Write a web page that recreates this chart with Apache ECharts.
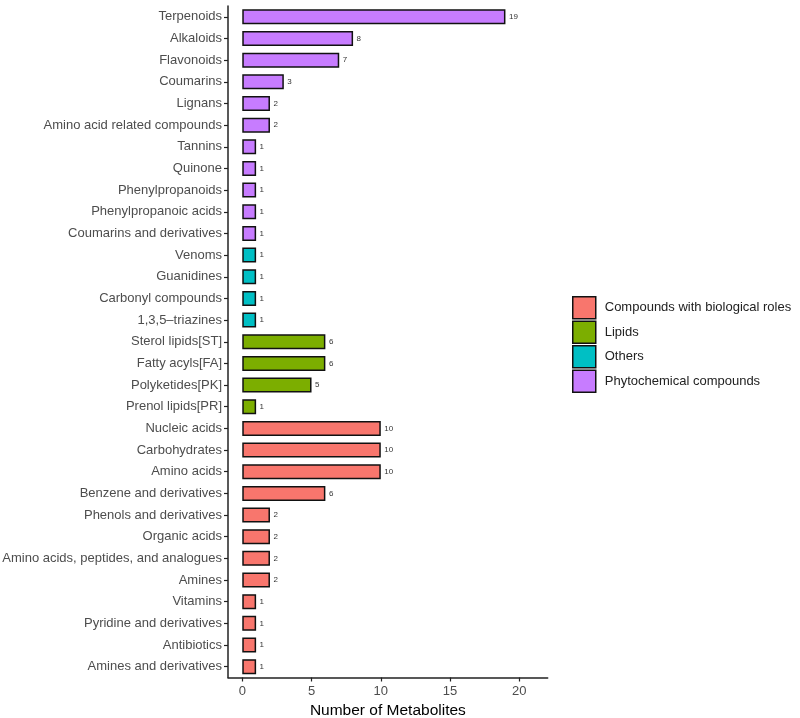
<!DOCTYPE html>
<html>
<head>
<meta charset="utf-8">
<script src="https://cdn.jsdelivr.net/npm/echarts@6/dist/echarts.min.js"></script>
<style>html,body{margin:0;padding:0;background:#fff}#c{width:800px;height:718px}</style>
</head>
<body>
<div id="c"></div>
<script>
const categories = ["Terpenoids","Alkaloids","Flavonoids","Coumarins","Lignans","Amino acid related compounds","Tannins","Quinone","Phenylpropanoids","Phenylpropanoic acids","Coumarins and derivatives","Venoms","Guanidines","Carbonyl compounds","1,3,5\u2013triazines","Sterol lipids[ST]","Fatty acyls[FA]","Polyketides[PK]","Prenol lipids[PR]","Nucleic acids","Carbohydrates","Amino acids","Benzene and derivatives","Phenols and derivatives","Organic acids","Amino acids, peptides, and analogues","Amines","Vitamins","Pyridine and derivatives","Antibiotics","Amines and derivatives"];
const values = [19,8,7,3,2,2,1,1,1,1,1,1,1,1,1,6,6,5,1,10,10,10,6,2,2,2,2,1,1,1,1];
const groups = ["P","P","P","P","P","P","P","P","P","P","P","O","O","O","O","L","L","L","L","C","C","C","C","C","C","C","C","C","C","C","C"];
const groupKeys = ["C","L","O","P"];
const groupNames = ["Compounds with biological roles","Lipids","Others","Phytochemical compounds"];
const groupColors = ["#F8766D","#7CAE00","#00BFC4","#C77CFF"];
const xTicks = [0,5,10,15,20];

const chart = echarts.init(document.getElementById('c'), null, {renderer:'canvas'});
const font = "'Liberation Sans', Arial, Helvetica, sans-serif";
const series = groupKeys.map((g,gi) => ({
  name: groupNames[gi],
  type: 'bar',
  stack: 'all',
  barWidth: 15,
  data: values.map((v,i) => groups[i] === g ? v : null),
  itemStyle: {color: groupColors[gi], borderColor: '#111', borderWidth: 1.5},
  label: {show: true, position: 'right', distance: 3.5, fontSize: 8, color: '#333', fontFamily: font},
  emphasis: {disabled: true},
  animation: false
}));

chart.setOption({
  animation: false,
  grid: {left: 228, right: 252.3, top: 6, bottom: 40.5, containLabel: false, outerBoundsMode: 'none'},
  legend: {
    orient: 'vertical', left: 572, top: 296, padding: 0,
    icon: 'rect',
    itemWidth: 23, itemHeight: 22, itemGap: 1,
    itemStyle: {borderColor: '#111', borderWidth: 1.5},
    textStyle: {fontSize: 13, color: '#222', fontFamily: font, padding: [0,0,0,4]},
    data: groupNames,
    selectedMode: false
  },
  xAxis: {
    type: 'value', min: -1.03, max: 22.05,
    name: 'Number of Metabolites', nameLocation: 'middle', nameGap: 22,
    nameTextStyle: {fontSize: 15.5, color: '#000', fontFamily: font},
    axisLine: {show: true, onZero: false, lineStyle: {color: '#222', width: 1.5}},
    axisTick: {show: true, length: 4, customValues: xTicks, lineStyle: {color: '#222', width: 1.2}},
    axisLabel: {customValues: xTicks, fontSize: 13, color: '#4d4d4d', fontFamily: font, margin: 7},
    splitLine: {show: false}
  },
  yAxis: {
    type: 'category', data: categories, inverse: true,
    axisLine: {show: true, onZero: false, lineStyle: {color: '#222', width: 1.5}},
    axisTick: {show: true, length: 4, alignWithLabel: true, lineStyle: {color: '#222', width: 1.2}},
    axisLabel: {fontSize: 13, color: '#4d4d4d', fontFamily: font, margin: 6, interval: 0},
    splitLine: {show: false}
  },
  series: series
});
</script>
</body>
</html>
